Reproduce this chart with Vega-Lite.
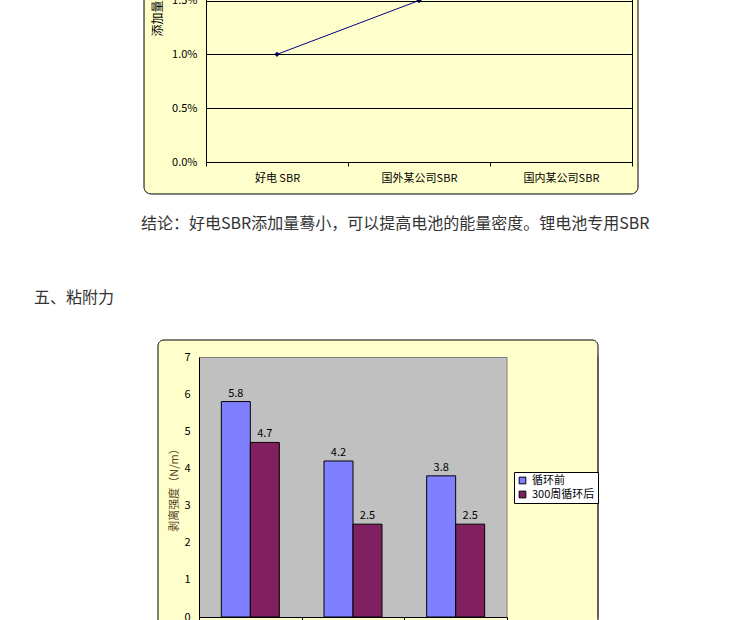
{
  "$schema": "https://vega.github.io/schema/vega-lite/v6.json",
  "background": "white",
  "padding": {"left": 33, "top": -173, "right": 0, "bottom": 0},
  "config": {
    "view": {"stroke": null},
    "font": "Noto Sans CJK SC",
    "axis": {"labelFont": "Noto Sans CJK SC", "titleFont": "Noto Sans CJK SC", "labelColor": "#000", "titleColor": "#000", "domainColor": "#000", "tickColor": "#000", "gridColor": "#000", "gridOpacity": 1, "titleFontWeight": "normal", "labelFontSize": 11, "titleFontSize": 12},
    "legend": {"labelFont": "Noto Sans CJK SC"}
  },
  "datasets": {
    "additive": [
      {"company": "好电 SBR", "amount": 0.010},
      {"company": "国外某公司SBR", "amount": 0.015},
      {"company": "国内某公司SBR", "amount": 0.020}
    ],
    "adhesion": [
      {"company": "好电 SBR", "series": "循环前", "strength": 5.8},
      {"company": "好电 SBR", "series": "300周循环后", "strength": 4.7},
      {"company": "国外某公司SBR", "series": "循环前", "strength": 4.2},
      {"company": "国外某公司SBR", "series": "300周循环后", "strength": 2.5},
      {"company": "国内某公司SBR", "series": "循环前", "strength": 3.8},
      {"company": "国内某公司SBR", "series": "300周循环后", "strength": 2.5}
    ]
  },
  "resolve": {"scale": {"color": "independent"}, "legend": {"color": "independent"}},
  "vconcat": [
    {
      "hconcat": [
        {"width": 1, "height": 323, "data": {"values": [{}]}, "mark": {"type": "point", "opacity": 0}, "encoding": {}},
        {
          "width": 426, "height": 323,
          "view": {"fill": "#FFFFCC", "stroke": "#000", "strokeWidth": 1},
          "title": {"text": "结论：好电SBR添加量蓦小，可以提高电池的能量密度。锂电池专用SBR", "orient": "bottom", "anchor": "start", "frame": "group", "dx": -65, "offset": 22, "fontSize": 16, "fontWeight": "normal", "color": "#333333", "font": "Noto Sans CJK SC"},
          "resolve": {"scale": {"x": "independent", "y": "independent"}},
          "layer": [
            {
              "data": {"values": [{}]},
              "mark": {"type": "rect", "fill": "#FFFFCC", "stroke": "#000", "strokeWidth": 1, "cornerRadius": 7},
              "encoding": {
                "x": {"datum": -0.1455, "type": "quantitative", "scale": {"domain": [0, 1], "nice": false, "zero": false}, "axis": null},
                "x2": {"datum": 1.0141},
                "y": {"datum": 0.031, "type": "quantitative", "scale": {"domain": [0, 0.03], "nice": false}, "axis": {"orient": "right", "title": null, "labels": false, "ticks": false, "grid": false, "domain": true, "zindex": 1}},
                "y2": {"datum": -0.00297}
              }
            },
            {
              "data": {"name": "additive"},
              "mark": {"type": "line", "color": "#000080", "strokeWidth": 1, "point": {"shape": "diamond", "filled": true, "size": 28, "color": "#000080"}},
              "encoding": {
                "x": {"field": "company", "type": "nominal", "sort": null, "bandPosition": 0.5, "scale": {"type": "band", "paddingInner": 0, "paddingOuter": 0}, "axis": {"title": null, "labelAngle": 0, "tickBand": "extent", "tickSize": 4, "labelPadding": 6, "labelFontSize": 11, "zindex": 1}},
                "y": {"field": "amount", "type": "quantitative", "scale": {"domain": [0, 0.03], "nice": false}, "axis": {"orient": "left", "title": "添加量（%）", "format": ".1%", "values": [0, 0.005, 0.01, 0.015, 0.02, 0.025, 0.03], "grid": true, "tickSize": 0, "labelPadding": 9, "titlePadding": 7, "zindex": 1}}
              }
            }
          ]
        }
      ],
      "spacing": 6,
      "bounds": "flush"
    },
    {
      "width": 308, "height": 260,
      "view": {"fill": "#C0C0C0", "stroke": "#808080", "strokeWidth": 1},
      "title": {"text": "五、粘附力", "orient": "top", "anchor": "start", "frame": "group", "dx": -165, "offset": 33, "fontSize": 16, "fontWeight": "normal", "color": "#333333", "font": "Noto Sans CJK SC"},
      "resolve": {"scale": {"x": "independent", "y": "independent"}},
      "layer": [
        {
          "data": {"values": [{}]},
          "layer": [
            {
              "mark": {"type": "rect", "fill": "#FFFFCC", "stroke": "#808080", "strokeWidth": 1},
              "encoding": {
                "x": {"datum": 1, "type": "quantitative", "scale": {"domain": [0, 1], "nice": false, "zero": false}, "axis": null},
                "x2": {"datum": 1.2955},
                "y": {"datum": -0.05, "type": "quantitative", "scale": {"domain": [0, 7], "nice": false}, "axis": {"orient": "left", "title": null, "values": [0, 1, 2, 3, 4, 5, 6, 7], "grid": true, "labels": false, "ticks": false, "domain": false, "zindex": 0}},
                "y2": {"datum": 7.05}
              }
            },
            {
              "mark": {"type": "rect", "fill": "#FFFFCC", "cornerRadiusTopLeft": 6, "cornerRadiusTopRight": 6},
              "encoding": {
                "x": {"datum": -0.1331, "type": "quantitative", "axis": null},
                "x2": {"datum": 1.2955},
                "y": {"datum": 7, "type": "quantitative", "axis": null},
                "y2": {"datum": 7.458}
              }
            },
            {
              "mark": {"type": "rect", "fill": "#FFFFCC"},
              "encoding": {
                "x": {"datum": -0.1331, "type": "quantitative", "axis": null},
                "x2": {"datum": 1.2955},
                "y": {"datum": -1.5, "type": "quantitative", "axis": null},
                "y2": {"datum": 0}
              }
            },
            {
              "mark": {"type": "rect", "fill": "#FFFFCC"},
              "encoding": {
                "x": {"datum": -0.1331, "type": "quantitative", "axis": null},
                "x2": {"datum": 0},
                "y": {"datum": 0, "type": "quantitative", "axis": null},
                "y2": {"datum": 7}
              }
            },
            {
              "mark": {"type": "rect", "fillOpacity": 0, "stroke": "#000", "strokeWidth": 1, "cornerRadius": 6},
              "encoding": {
                "x": {"datum": -0.1331, "type": "quantitative", "axis": null},
                "x2": {"datum": 1.2955},
                "y": {"datum": -1.5, "type": "quantitative", "axis": null},
                "y2": {"datum": 7.458}
              }
            }
          ]
        },
        {
          "data": {"name": "adhesion"},
          "encoding": {
            "x": {"field": "company", "type": "nominal", "sort": null, "scale": {"paddingInner": 0, "paddingOuter": 0}, "axis": {"title": null, "labelAngle": 0, "tickBand": "extent", "tickSize": 4, "labelPadding": 6, "zindex": 1}},
            "xOffset": {"field": "series", "type": "nominal", "sort": ["循环前", "300周循环后"], "scale": {"paddingInner": 0, "paddingOuter": 0.77}},
            "y": {"field": "strength", "type": "quantitative", "scale": {"domain": [0, 7], "nice": false}, "axis": {"orient": "left", "title": "剥离强度（N/m）", "titleColor": "#554422", "values": [0, 1, 2, 3, 4, 5, 6, 7], "grid": false, "tickSize": 0, "labelPadding": 9, "titlePadding": 4, "titleFontSize": 11, "zindex": 1}}
          },
          "layer": [
            {
              "mark": {"type": "bar", "stroke": "#000", "strokeWidth": 1},
              "encoding": {
                "color": {"field": "series", "type": "nominal", "sort": ["循环前", "300周循环后"], "scale": {"domain": ["循环前", "300周循环后"], "range": ["#8080FF", "#802060"]},
                  "legend": {"title": null, "orient": "none", "legendX": 315, "legendY": 115, "zindex": 1, "fillColor": "#FFFFFF", "strokeColor": "#000", "padding": 3, "symbolType": "square", "symbolSize": 45, "symbolStrokeColor": "#000", "symbolStrokeWidth": 1, "labelFontSize": 11, "rowPadding": 2, "labelOffset": 4, "labelColor": "#000"}}
              }
            },
            {
              "mark": {"type": "text", "baseline": "bottom", "dy": -3, "fontSize": 11, "color": "#000"},
              "encoding": {"text": {"field": "strength", "type": "quantitative", "format": ".1f"}}
            }
          ]
        }
      ]
    }
  ],
  "spacing": 518,
  "bounds": "flush"
}
